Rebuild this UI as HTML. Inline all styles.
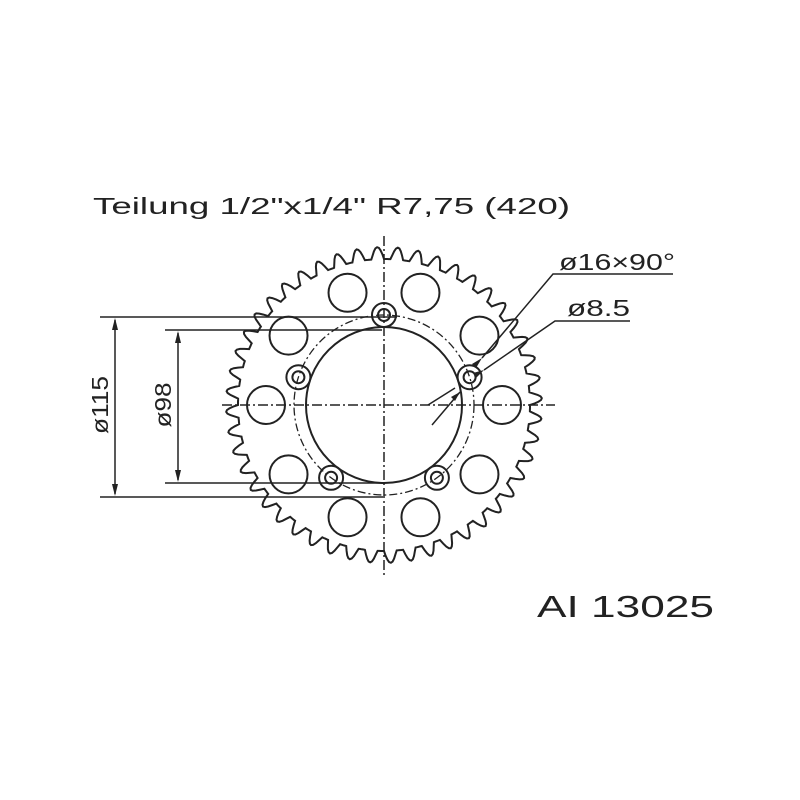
<!DOCTYPE html>
<html><head><meta charset="utf-8"><style>html,body{margin:0;padding:0;background:#fff}svg{display:block}</style></head><body>
<svg id="s" width="800" height="800" viewBox="0 0 800 800" xmlns="http://www.w3.org/2000/svg" font-family="Liberation Sans, DejaVu Sans, sans-serif">
<rect width="800" height="800" fill="#fff"/>
<text x="93" y="214" font-size="23" fill="#222" textLength="477" lengthAdjust="spacingAndGlyphs">Teilung 1/2"x1/4"  R7,75 (420)</text>
<text x="537" y="617" font-size="31" fill="#222" textLength="177" lengthAdjust="spacingAndGlyphs">AI 13025</text>
<g fill="none" stroke="#222" stroke-width="2">
<path id="teeth" d=""/>
<circle cx="384" cy="405" r="78"/>
<circle cx="384" cy="405" r="90" stroke-width="1.3" stroke-dasharray="8 3 2 3"/>
<g id="holes"></g>
<g id="bolts"></g>
<line x1="384" y1="236" x2="384" y2="575" stroke-width="1.5" stroke-dasharray="10 3 2 3"/>
<line x1="222" y1="405" x2="555" y2="405" stroke-width="1.5" stroke-dasharray="10 3 2 3"/>
<line x1="100" y1="317" x2="397" y2="317" stroke-width="1.5"/>
<line x1="100" y1="497" x2="383" y2="497" stroke-width="1.5"/>
<line x1="165" y1="330" x2="382" y2="330" stroke-width="1.5"/>
<line x1="165" y1="483" x2="385" y2="483" stroke-width="1.5"/>
<line x1="115" y1="320" x2="115" y2="494" stroke-width="1.5"/>
<line x1="178" y1="333" x2="178" y2="480" stroke-width="1.5"/>
<polyline points="673,274 553,274 482,358" stroke-width="1.5"/>
<polyline points="630,321 555,321 484,370" stroke-width="1.5"/>
<line x1="432" y1="425" x2="460" y2="392" stroke-width="1.5"/>
<line x1="428" y1="405" x2="455" y2="388" stroke-width="1.5"/>
</g>
<g fill="#222">
<polygon points="115,318 112,330 118,330"/><polygon points="115,496 112,484 118,484"/>
<polygon points="178,331 175,343 181,343"/><polygon points="178,482 175,470 181,470"/>
<polygon points="482,358 472,364 476,368"/>
<polygon points="484,370 473,373 476,378"/>
<polygon points="460,392 451,397 455,401"/>
</g>
<text transform="translate(108,405) rotate(-90)" text-anchor="middle" font-size="23" fill="#222" textLength="58" lengthAdjust="spacingAndGlyphs">ø115</text>
<text transform="translate(171,405) rotate(-90)" text-anchor="middle" font-size="23" fill="#222" textLength="45" lengthAdjust="spacingAndGlyphs">ø98</text>
<text x="559" y="270" font-size="23" fill="#222" textLength="116" lengthAdjust="spacingAndGlyphs">ø16×90°</text>
<text x="567" y="316" font-size="23" fill="#222" textLength="63" lengthAdjust="spacingAndGlyphs">ø8.5</text>
</svg>
<script>
(function(){
var cx=384,cy=405,N=48,rt=158,rr=146,d="";
var steps=N*12;
for(var i=0;i<=steps;i++){
 var a=i/steps*2*Math.PI;
 var ph=(i%12)/12;
 var t=(ph<0.35)?0:Math.sin(Math.PI*(ph-0.35)/0.65);
 var r=rr+(rt-rr)*t;
 var x=cx+r*Math.sin(a),y=cy-r*Math.cos(a);
 d+=(i?"L":"M")+x.toFixed(1)+" "+y.toFixed(1);
}
document.getElementById("teeth").setAttribute("d",d+"Z");
var ns="http://www.w3.org/2000/svg",h=document.getElementById("holes"),b=document.getElementById("bolts");
for(var k=0;k<10;k++){var a=(18+36*k)*Math.PI/180;var c=document.createElementNS(ns,"circle");
c.setAttribute("cx",cx+118*Math.sin(a));c.setAttribute("cy",cy-118*Math.cos(a));c.setAttribute("r",19);h.appendChild(c);}
for(var k=0;k<5;k++){var a=(72*k)*Math.PI/180;var x=cx+90*Math.sin(a),y=cy-90*Math.cos(a);
[12,6].forEach(function(r){var c=document.createElementNS(ns,"circle");c.setAttribute("cx",x);c.setAttribute("cy",y);c.setAttribute("r",r);b.appendChild(c);});}
})();
</script>
</body></html>
